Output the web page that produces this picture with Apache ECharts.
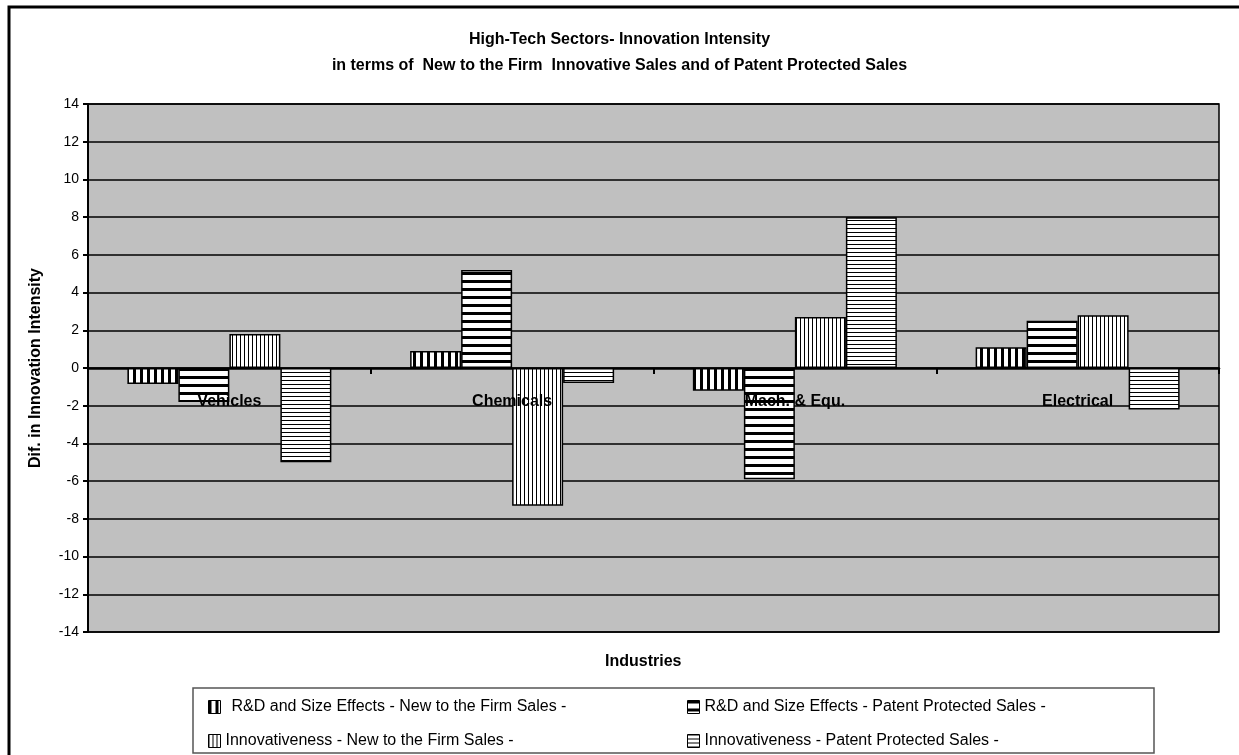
<!DOCTYPE html>
<html>
<head>
<meta charset="utf-8">
<script src="https://cdn.jsdelivr.net/npm/echarts@6/dist/echarts.min.js"></script>
<style>
html,body{margin:0;padding:0;background:#fff;}
#c{width:1239px;height:755px;}
</style>
</head>
<body>
<div id="c"></div>
<script>
const categories = ['Vehicles', 'Chemicals', 'Mach. & Equ.', 'Electrical'];
const seriesNames = [
  'R&D and Size Effects - New to the Firm Sales -',
  'R&D and Size Effects - Patent Protected Sales -',
  'Innovativeness - New to the Firm Sales -',
  'Innovativeness - Patent Protected Sales -'
];
const rdNewFirm = [-0.85, 0.9, -1.2, 1.1];
const rdPatent = [-1.8, 5.2, -5.9, 2.5];
const innovNewFirm = [1.8, -7.3, 2.7, 2.8];
const innovPatent = [-5.0, -0.8, 8.0, -2.2];
const yTicks = { min: -14, max: 14, interval: 2 };

function pat(w, h, draw) {
  const c = document.createElement('canvas');
  c.width = w; c.height = h;
  const g = c.getContext('2d');
  g.fillStyle = '#fff'; g.fillRect(0, 0, w, h);
  g.fillStyle = '#000'; draw(g);
  return { image: c, repeat: 'repeat' };
}
const patterns = [
  pat(7, 1, g => g.fillRect(0, 0, 3, 1)),
  pat(1, 8, g => g.fillRect(0, 0, 1, 3)),
  pat(4, 1, g => g.fillRect(0, 0, 1, 1)),
  pat(1, 4, g => g.fillRect(0, 0, 1, 1))
];
const values = [rdNewFirm, rdPatent, innovNewFirm, innovPatent];
const font = 'Liberation Sans, Arial, sans-serif';

const gridTop = 104, gridBottom = 123, chartH = 755;
const plotH = chartH - gridTop - gridBottom;
const zeroOffset = -Math.round(plotH * (0 - yTicks.min) / (yTicks.max - yTicks.min));

const chart = echarts.init(document.getElementById('c'));
chart.setOption({
  animation: false,
  backgroundColor: '#fff',
  title: {
    text: 'High-Tech Sectors- Innovation Intensity\nin terms of  New to the Firm  Innovative Sales and of Patent Protected Sales',
    left: 'center',
    top: 22,
    textStyle: { fontFamily: font, fontSize: 16, fontWeight: 'bold', color: '#000', lineHeight: 26 }
  },
  grid: {
    left: 88, right: 20, top: gridTop, bottom: gridBottom,
    show: true, backgroundColor: '#c0c0c0', borderColor: '#000', borderWidth: 1.5
  },
  legend: [
    {
      orient: 'vertical', left: 208, top: 699, padding: 0, itemGap: 18,
      icon: 'rect', itemWidth: 12, itemHeight: 13,
      itemStyle: { borderWidth: 1 },
      textStyle: { fontFamily: font, fontSize: 16, color: '#000' },
      data: [
        { name: seriesNames[0], textStyle: { padding: [0, 0, 0, 6] } },
        { name: seriesNames[2] }
      ]
    },
    {
      orient: 'vertical', left: 687, top: 699, padding: 0, itemGap: 18,
      icon: 'rect', itemWidth: 12, itemHeight: 13,
      itemStyle: { borderWidth: 1 },
      textStyle: { fontFamily: font, fontSize: 16, color: '#000' },
      data: [seriesNames[1], seriesNames[3]]
    }
  ],
  xAxis: [
    {
      type: 'category',
      data: categories,
      axisLine: { onZero: true, lineStyle: { color: '#000', width: 2.5 } },
      axisTick: { show: true, interval: 0, length: 6, lineStyle: { color: '#000', width: 2 } },
      axisLabel: { show: false },
      splitLine: { show: false }
    },
    {
      type: 'category',
      data: categories,
      position: 'bottom',
      offset: zeroOffset,
      z: 10,
      axisLine: { show: false, onZero: false },
      axisTick: { show: false },
      axisLabel: { margin: 26, fontFamily: font, fontSize: 16, fontWeight: 'bold', color: '#000' },
      splitLine: { show: false }
    }
  ],
  yAxis: {
    type: 'value',
    min: yTicks.min, max: yTicks.max, interval: yTicks.interval,
    name: 'Dif. in Innovation Intensity',
    nameLocation: 'middle', nameGap: 44, nameRotate: 90,
    nameTextStyle: { fontFamily: font, fontSize: 16, fontWeight: 'bold', color: '#000' },
    axisLine: { show: true, lineStyle: { color: '#000', width: 2 } },
    axisTick: { show: true, length: 5, lineStyle: { color: '#000', width: 2 } },
    axisLabel: { margin: 9, fontFamily: font, fontSize: 14, color: '#000' },
    splitLine: { show: true, lineStyle: { color: '#000', width: 1.5 } }
  },
  graphic: [
    { type: 'rect', shape: { x: 9, y: 7, width: 1300, height: 800 }, style: { fill: 'none', stroke: '#000', lineWidth: 3 }, silent: true },
    { type: 'rect', shape: { x: 193, y: 688, width: 961, height: 65 }, style: { fill: 'none', stroke: '#555', lineWidth: 1.5 }, silent: true },
    { type: 'text', left: 605, top: 654, style: { text: 'Industries', font: 'bold 16px ' + font, fill: '#000' } }
  ],
  series: values.map((v, i) => ({
    name: seriesNames[i],
    type: 'bar',
    data: v,
    barWidth: 51,
    barGap: '0%',
    itemStyle: { color: patterns[i], borderColor: '#000', borderWidth: 1.5 }
  }))
});
</script>
</body>
</html>
